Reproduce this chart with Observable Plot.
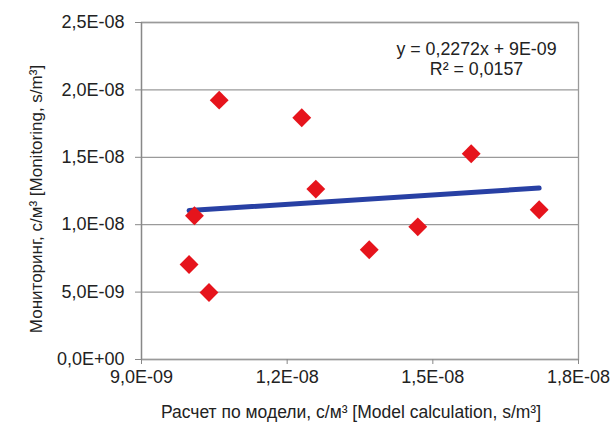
<!DOCTYPE html>
<html>
<head>
<meta charset="utf-8">
<script src="https://cdn.jsdelivr.net/npm/d3@7"></script>
<script src="https://cdn.jsdelivr.net/npm/@observablehq/plot@0.6"></script>
<style>
  html, body { margin: 0; padding: 0; background: white; }
</style>
</head>
<body>
<div id="chart"></div>
<script>
// Model calculation (x) and monitoring (y), s/m³
const modelCalc = [1.060e-8, 1.230e-8, 1.259e-8, 1.009e-8, 0.998e-8, 1.039e-8, 1.369e-8, 1.469e-8, 1.579e-8, 1.719e-8];
const monitoring = [1.924e-8, 1.793e-8, 1.264e-8, 1.066e-8, 0.705e-8, 0.497e-8, 0.814e-8, 0.984e-8, 1.526e-8, 1.111e-8];
const xTicks = [9e-9, 1.2e-8, 1.5e-8, 1.8e-8];
const yTicks = [0, 5e-9, 1e-8, 1.5e-8, 2e-8, 2.5e-8];
const equationLines = ["y = 0,2272x + 9E-09", "R² = 0,0157"];
const xTitle = "Расчет по модели, с/м³ [Model calculation, s/m³]";
const yTitle = "Мониторинг, с/м³ [Monitoring, s/m³]";

const data = modelCalc.map((x, i) => ({x, y: monitoring[i]}));

function fmt(v) {
  if (v === 0) return "0,0E+00";
  const e = Math.floor(Math.log10(Math.abs(v)) + 1e-9);
  const m = v / Math.pow(10, e);
  return m.toFixed(1).replace(".", ",") + "E" + (e < 0 ? "-" : "+") + String(Math.abs(e)).padStart(2, "0");
}

const chart = Plot.plot({
  width: 610,
  height: 426,
  marginLeft: 141,
  marginRight: 32,
  marginTop: 22,
  marginBottom: 67,
  style: {fontFamily: "'Liberation Sans', Arial, sans-serif", fontSize: "18px", color: "#222", background: "white"},
  x: {domain: [9e-9, 1.8e-8], label: null},
  y: {domain: [0, 2.5e-8], label: null},
  marks: [
    Plot.gridY(yTicks, {stroke: "#9a9a9a", strokeOpacity: 1, strokeWidth: 1.3}),
    Plot.frame({stroke: "#9a9a9a", strokeWidth: 1.3}),
    Plot.axisY(yTicks, {tickSize: 6, tickPadding: 11, tickFormat: fmt, stroke: "#888", fontSize: 18, label: null}),
    Plot.axisX(xTicks, {tickSize: 5, tickPadding: 6, tickFormat: fmt, stroke: "#888", fontSize: 18, label: null}),
    Plot.ruleX([9e-9], {stroke: "#888", strokeWidth: 1.3}),
    Plot.linearRegressionY(data, {x: "x", y: "y", ci: 0, stroke: "#2840a4", strokeWidth: 5}),
    Plot.dot(data, {x: "x", y: "y", symbol: "diamond2", r: 8.5, fill: "#e6141c", stroke: "none"}),
    Plot.text([equationLines[0]], {frameAnchor: "top-right", textAnchor: "middle", lineAnchor: "middle", dx: -102, dy: 26.5, fontSize: 17.8, fill: "#222"}),
    Plot.text([equationLines[1]], {frameAnchor: "top-right", textAnchor: "middle", lineAnchor: "middle", dx: -102, dy: 46.5, fontSize: 17.8, fill: "#222"}),
    Plot.text([xTitle], {frameAnchor: "bottom", textAnchor: "middle", lineAnchor: "middle", dx: -9, dy: 53, fontSize: 17.5, fill: "#222"}),
    Plot.text([yTitle], {frameAnchor: "left", textAnchor: "middle", lineAnchor: "middle", rotate: -90, dx: -105, dy: 8, fontSize: 17, fill: "#222"})
  ]
});
document.getElementById("chart").appendChild(chart);
</script>
</body>
</html>
